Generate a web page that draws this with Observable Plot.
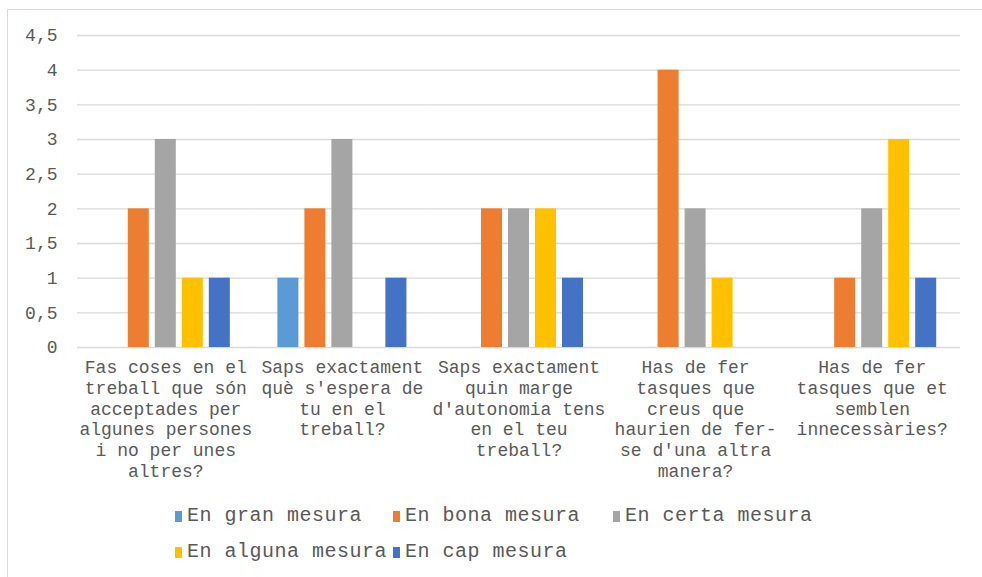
<!DOCTYPE html>
<html>
<head>
<meta charset="utf-8">
<script src="https://cdn.jsdelivr.net/npm/d3@7"></script>
<script src="https://cdn.jsdelivr.net/npm/@observablehq/plot@0.6"></script>
<style>
  html, body { margin: 0; padding: 0; background: #fff; overflow: hidden; }
  #wrap { position: relative; width: 982px; height: 577px; overflow: hidden; font-family: "Liberation Mono", "DejaVu Sans Mono", monospace; }
  #frame { position: absolute; left: 7px; top: 9px; width: 1000px; height: 600px; border: 1px solid #d9d9d9; box-sizing: border-box; }
  #chart { position: absolute; left: 0; top: 0; }
  .leg { position: absolute; font-size: 20px; letter-spacing: 0.5px; color: #595959; white-space: nowrap; line-height: 24px; display: flex; align-items: center; }
  .sw { display: inline-block; width: 7px; height: 11px; margin-right: 5px; }
</style>
</head>
<body>
<div id="wrap">
  <div id="frame"></div>
  <div id="chart"></div>
  <div id="legend"></div>
</div>
<script>
const categories = [
  "Fas coses en el\ntreball que són\nacceptades per\nalgunes persones\ni no per unes\naltres?",
  "Saps exactament\nquè s'espera de\ntu en el\ntreball?",
  "Saps exactament\nquin marge\nd'autonomia tens\nen el teu\ntreball?",
  "Has de fer\ntasques que\ncreus que\nhaurien de fer-\nse d'una altra\nmanera?",
  "Has de fer\ntasques que et\nsemblen\ninnecessàries?"
];
const series = ["En gran mesura", "En bona mesura", "En certa mesura", "En alguna mesura", "En cap mesura"];
const colors = ["#5b9bd5", "#ed7d31", "#a5a5a5", "#ffc000", "#4472c4"];
const enGranMesura   = [0, 1, 0, 0, 0];
const enBonaMesura   = [2, 2, 2, 4, 1];
const enCertaMesura  = [3, 3, 2, 2, 2];
const enAlgunaMesura = [1, 0, 2, 1, 3];
const enCapMesura    = [1, 1, 1, 0, 1];
const yTicks = [0, 0.5, 1, 1.5, 2, 2.5, 3, 3.5, 4, 4.5];

const seriesValues = [enGranMesura, enBonaMesura, enCertaMesura, enAlgunaMesura, enCapMesura];
const rows = [];
categories.forEach((c, i) => series.forEach((s, j) => rows.push({category: c, series: s, value: seriesValues[j][i]})));

const chart = Plot.plot({
  width: 982,
  height: 577,
  marginLeft: 77,
  marginRight: 22,
  marginTop: 35,
  marginBottom: 230,
  style: {fontFamily: "'Liberation Mono', monospace", fontSize: "18px", color: "#595959", background: "transparent"},
  fx: {domain: categories, padding: 0, round: false, axis: null, label: null},
  x: {domain: series, paddingInner: 0.222, paddingOuter: 0.881, round: false, axis: null},
  y: {domain: [0, 4.5], axis: null},
  color: {domain: series, range: colors},
  marks: [
    Plot.gridY(yTicks, {stroke: "#d9d9d9", strokeOpacity: 1, strokeWidth: 1.3}),
    Plot.barY(rows, {fx: "category", x: "series", y: "value", fill: "series"}),
    Plot.axisY(yTicks, {tickSize: 0, tickPadding: 20, tickFormat: d => String(d).replace(".", ","), fontSize: 18, fill: "#595959", label: null}),
    Plot.text(categories, {fx: d => d, text: d => d, frameAnchor: "bottom", lineAnchor: "top", dy: 11, fontSize: 18, lineHeight: 1.15, fill: "#595959"})
  ]
});
document.getElementById("chart").appendChild(chart);

const legendPos = [[175, 516], [393, 516], [613, 516], [175, 552], [393, 552]];
const legend = document.getElementById("legend");
series.forEach((s, j) => {
  const el = document.createElement("div");
  el.className = "leg";
  el.style.left = legendPos[j][0] + "px";
  el.style.top = (legendPos[j][1] - 12) + "px";
  const sw = document.createElement("span");
  sw.className = "sw";
  sw.style.background = colors[j];
  el.appendChild(sw);
  el.appendChild(document.createTextNode(s));
  legend.appendChild(el);
});
</script>
</body>
</html>
